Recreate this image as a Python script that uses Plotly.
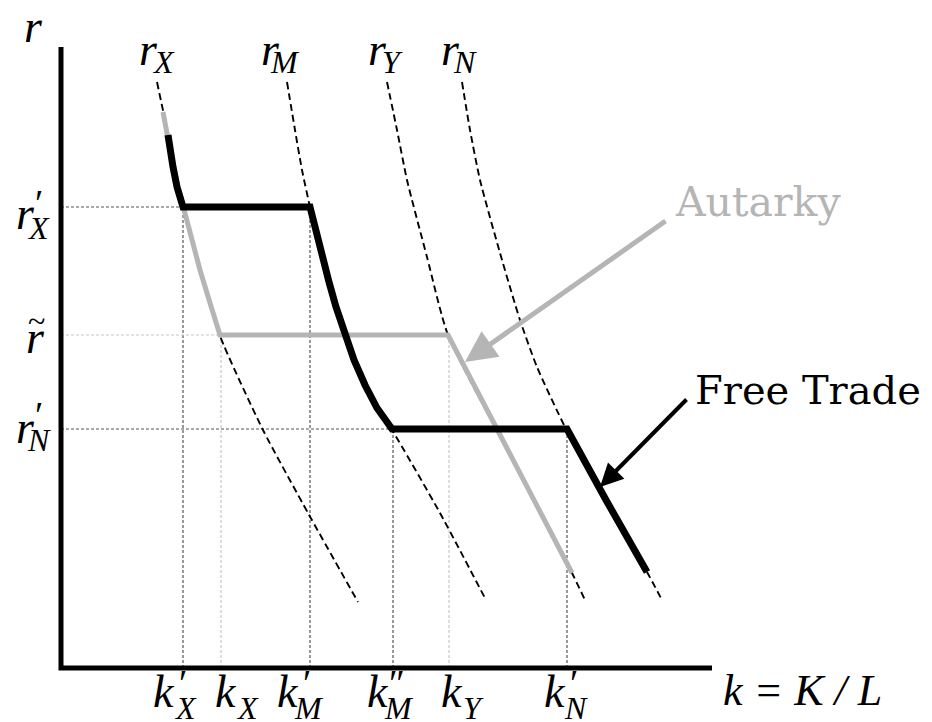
import plotly.graph_objects as go

# coordinates: k to the right of the vertical axis, r above the horizontal axis (1 unit = 1 px)

# dashed factor-price curves
rX_k = [96, 104, 107, 109, 112, 116, 122, 139, 159, 202, 247, 297]
rX_r = [586, 548, 533, 518, 501, 481, 461, 398, 332, 238, 155, 66]
rM_k = [226, 234, 241, 249, 255, 261, 268, 275, 284, 293, 304, 316, 331, 379, 425]
rM_r = [586, 538, 498, 461, 436, 411, 386, 361, 332, 308, 283, 260, 238, 155, 68]
rY_k = [326, 336, 346, 366, 387, 449, 511, 524]
rY_r = [586, 538, 488, 411, 333, 213, 95, 68]
rN_k = [401, 409, 419, 439, 459, 476, 505, 545, 586, 601]
rN_r = [586, 538, 488, 415, 348, 301, 239, 168, 96, 68]

# envelopes
autarky_k = [102, 106, 111, 116, 122, 130, 139, 149, 159, 387, 449, 511]
autarky_r = [556, 533, 508, 485, 461, 430, 398, 365, 333, 333, 213, 95]
free_k = [107, 109, 112, 116, 122, 249, 255, 261, 268, 275, 284, 293, 304, 316, 331,
          506, 545, 586]
free_r = [533, 518, 501, 481, 461, 461, 436, 411, 386, 361, 332, 308, 283, 260, 239,
          239, 168, 96]

# reference levels on the axes
k_marks = [122, 160, 249, 332, 388, 506]
k_mark_tops = [461, 333, 461, 239, 333, 239]
k_mark_light = [False, True, False, False, True, False]
k_base = ["k", "k", "k", "k", "k", "k"]
k_sub = ["X", "X", "M", "M", "Y", "N"]
k_prime = ["′", "", "′", "″", "", "′"]
k_label_x = [103, 165, 227, 317, 391, 494]

r_marks = [461, 333, 239]
r_mark_ends = [122, 159, 331]
r_mark_light = [False, True, False]

curve_names = ["X", "M", "Y", "N"]
curve_label_x = [87, 209, 316, 389]

AXIS_K = 651
AXIS_R = 621

DARK = "#555555"
LIGHT = "#c8c8c8"
GRAY = "#b5b5b5"
MATH = "Liberation Serif"

fig = go.Figure()

# guide lines
for k, top, light in zip(k_marks, k_mark_tops, k_mark_light):
    fig.add_trace(go.Scatter(x=[k, k], y=[0, top], mode="lines",
                             line=dict(color=LIGHT if light else DARK, width=1.2, dash="3px,2px")))
for r, end, light in zip(r_marks, r_mark_ends, r_mark_light):
    fig.add_trace(go.Scatter(x=[0, end], y=[r, r], mode="lines",
                             line=dict(color=LIGHT if light else DARK, width=1.2, dash="3px,2px")))

# dashed curves
for ks, rs in [(rX_k, rX_r), (rM_k, rM_r), (rY_k, rY_r), (rN_k, rN_r)]:
    fig.add_trace(go.Scatter(x=ks, y=rs, mode="lines", line_shape="spline",
                             line=dict(color="black", width=1.9, dash="7px,4px", smoothing=0.6)))

# autarky and free trade
fig.add_trace(go.Scatter(x=autarky_k, y=autarky_r, mode="lines",
                         line=dict(color=GRAY, width=5)))
fig.add_trace(go.Scatter(x=free_k, y=free_r, mode="lines",
                         line=dict(color="black", width=7)))

# axes
fig.add_trace(go.Scatter(x=[0, 0, AXIS_K], y=[AXIS_R, 0, 0], mode="lines",
                         line=dict(color="black", width=5)))


def math_label(x, y, base, sub="", prime="", sub_dx=15, sub_dy=-13, pr_dx=14, pr_dy=13):
    fig.add_annotation(x=x, y=y, text=base, showarrow=False,
                       font=dict(family=MATH, size=46, color="black", style="italic"))
    if sub:
        fig.add_annotation(x=x + sub_dx, y=y + sub_dy, text=sub, showarrow=False,
                           font=dict(family=MATH, size=32, color="black", style="italic"))
    if prime:
        fig.add_annotation(x=x + pr_dx, y=y + pr_dy, text=prime, showarrow=False,
                           font=dict(family=MATH, size=38, color="black"))


math_label(-28, 642, "r")
for name, x in zip(curve_names, curve_label_x):
    math_label(x, 619, "r", name)

math_label(-36, 455, "r", "X", "′", sub_dx=13, sub_dy=-15, pr_dy=10)
math_label(-26, 331, "r")
fig.add_annotation(x=-25, y=347, text="~", showarrow=False,
                   font=dict(family=MATH, size=32, color="black"))
math_label(-36, 241, "r", "N", "′", sub_dx=14, sub_dy=-13, pr_dy=12)

for x, base, sub, pr in zip(k_label_x, k_base, k_sub, k_prime):
    math_label(x, -23, base, sub, pr, sub_dx=21, sub_dy=-17, pr_dx=19, pr_dy=8)

fig.add_annotation(x=741, y=-22, text="k = K / L", showarrow=False,
                   font=dict(family=MATH, size=44, color="black", style="italic"))

# curve names with arrows
fig.add_annotation(x=697, y=466, text="Autarky", showarrow=False,
                   font=dict(family="DejaVu Serif", size=41, color=GRAY))
fig.add_annotation(x=404, y=306, ax=606, ay=448, axref="x", ayref="y", text="",
                   showarrow=True, arrowhead=2, arrowsize=1.25, arrowwidth=5,
                   arrowcolor=GRAY, standoff=0)
fig.add_annotation(x=747, y=278, text="Free Trade", showarrow=False,
                   font=dict(family="DejaVu Serif", size=40, color="black"))
fig.add_annotation(x=539, y=181, ax=627, ay=270, axref="x", ayref="y", text="",
                   showarrow=True, arrowhead=2, arrowsize=1.15, arrowwidth=4,
                   arrowcolor="black", standoff=0)

# ranges shifted by the 8px page margin so the axes land where the reference has them
fig.update_layout(
    width=932, height=722,
    margin=dict(l=0, r=0, t=0, b=0),
    paper_bgcolor="white", plot_bgcolor="white",
    showlegend=False,
    xaxis=dict(range=[-53, 879], visible=False, fixedrange=True),
    yaxis=dict(range=[-62, 660], visible=False, fixedrange=True),
)

fig.write_html("out.html")
